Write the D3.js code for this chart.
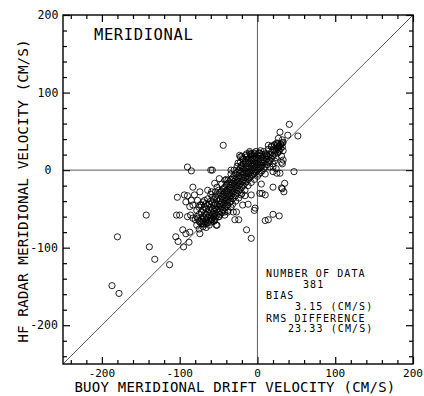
<!DOCTYPE html>
<html>
<head>
<meta charset="utf-8">
<script src="https://cdn.jsdelivr.net/npm/d3@7"></script>
<style>
  body { margin: 0; background: #fff; }
  text { font-family: "DejaVu Sans Mono", monospace; fill: #000; }
</style>
</head>
<body>
<div id="chart"></div>
<script>
// axis labels / ticks
const majorTicks = [-200, -100, 0, 100, 200];
const statLines = ['NUMBER OF DATA', '381', 'BIAS', '3.15 (CM/S)', 'RMS DIFFERENCE', '23.33 (CM/S)'];

// buoy (x) vs radar (y), cm/s
const lowerTail = [
  [-187, -149], [-178, -159], [-180, -86], [-143, -58], [-139, -99], [-132, -115],
  [-113, -122], [-104, -58], [-100, -58], [-102, -92], [-95, -99], [-88, -93],
  [-105, -86], [-96, -77], [-92, -82], [-87, -80], [-74, -82], [-80, -64],
  [-70, -69], [-90, -60], [-86, -58], [-83, -62], [-77, -62], [-74, -67],
  [-66, -69], [-59, -64], [-53, -71], [-49, -60]
];
const leftScatter = [
  [-90, 4], [-85, -1], [-60, 0], [-58, 0], [-34, 0], [-44, 32],
  [-103, -35], [-94, -32], [-90, -33], [-81, -32], [-74, -28], [-85, -39], [-77, -39],
  [-68, -39], [-83, -45], [-74, -45], [-92, -41], [-87, -47], [-83, -22],
  [-49, -11], [-42, -13], [-38, -13], [-55, -17], [-64, -26], [-59, -28]
];
const rightScatter = [
  [5, -18], [10, -32], [3, -30], [-21, -32], [-16, -33], [-8, -32], [-19, -45],
  [-12, -44], [-4, -52], [-3, -49], [-31, -54], [-27, -54], [20, -57], [28, -59], [10, -65],
  [14, -64], [-29, -64], [-24, -64], [-14, -77], [-8, -88], [-42, -54], [-38, -54],
  [-55, -65], [-52, -71], [20, -22], [32, -24], [34, -28], [35, -17], [31, -23],
  [6, -30], [47, -2], [20, -2], [25, -4], [29, -4], [31, 10], [32, 8], [20, 4], [24, 2]
];
const upperTail = [
  [41, 59], [52, 44], [29, 49], [39, 45], [27, 41], [32, 39], [22, 33], [25, 35],
  [28, 31], [30, 34], [33, 36], [26, 29], [14, 32], [18, 31], [22, 26], [28, 24],
  [33, 25], [31, 18], [33, 13], [-8, 21], [-4, 21], [3, 22], [10, 21], [12, 19],
  [-23, 19], [-19, 15], [-25, 9], [-21, 6], [-22, 17], [-14, 21], [-10, 24],
  [-20, 18], [-15, 19], [-9, 20]
];
// dense band, one row per buoy value
const coreColumns = [
  [-78, [-60, -71, -52]],
  [-75, [-57, -66, -48, -76]],
  [-72, [-54, -63, -69, -45]],
  [-70, [-51, -60, -66, -73, -41]],
  [-68, [-47, -56, -62, -70]],
  [-66, [-50, -58, -64, -43, -74]],
  [-64, [-46, -55, -61, -68, -37]],
  [-62, [-44, -51, -58, -65, -71]],
  [-60, [-40, -48, -54, -62, -67, -31]],
  [-58, [-42, -50, -57, -63, -35]],
  [-56, [-38, -45, -53, -60, -66]],
  [-54, [-34, -43, -49, -56, -62, -28]],
  [-52, [-37, -45, -51, -58, -22]],
  [-50, [-31, -40, -47, -54, -60, -26]],
  [-48, [-29, -37, -44, -50, -57]],
  [-46, [-27, -34, -41, -47, -55, -18]],
  [-44, [-24, -32, -38, -45, -52]],
  [-42, [-22, -29, -36, -43, -49, -58]],
  [-40, [-19, -27, -34, -40, -47, -12]],
  [-38, [-17, -25, -31, -38, -45, -52]],
  [-36, [-15, -22, -29, -35, -42]],
  [-34, [-12, -19, -26, -33, -40, -48, -5]],
  [-32, [-10, -17, -24, -30, -37, -44]],
  [-30, [-7, -15, -21, -28, -35, 0]],
  [-28, [-5, -12, -19, -25, -33, -40]],
  [-26, [-3, -10, -16, -23, -30, 5]],
  [-24, [0, -7, -14, -20, -27, -36]],
  [-22, [3, -4, -11, -18, -25, 10]],
  [-20, [5, -2, -9, -15, -22, -30]],
  [-18, [8, 1, -6, -13, -20, 14]],
  [-16, [10, 3, -4, -10, -17, -26]],
  [-14, [12, 5, -2, -8, -15, 17]],
  [-12, [14, 8, 1, -5, -12, -20]],
  [-10, [16, 10, 3, -3, -10, 22]],
  [-8, [18, 12, 5, -1, -8, -16]],
  [-6, [20, 14, 7, 1, -6]],
  [-4, [22, 15, 9, 3, -4, -12]],
  [-2, [24, 17, 11, 5, -2]],
  [0, [20, 13, 7, 0, -8]],
  [2, [22, 15, 9, 2, -5]],
  [4, [18, 11, 4, -3, 25]],
  [6, [20, 13, 6, -1]],
  [8, [16, 9, 2, 24]],
  [10, [18, 11, 4, -5]],
  [12, [21, 14, 7]],
  [14, [17, 10, 27]],
  [16, [20, 12, 4]],
  [18, [23, 15, 30]],
  [20, [18, 8, 26]],
  [22, [21, 12, 32]],
  [24, [25, 30, 16]],
  [26, [28, 34, 22]],
  [28, [31, 26]],
  [30, [33, 28]],
  [32, [35, 30]]
];

const points = [...lowerTail, ...leftScatter, ...rightScatter, ...upperTail];
coreColumns.forEach(([bx, ys]) => ys.forEach(ry => points.push([bx, ry])));

const width = 424, height = 396;
const margin = {left: 63, right: 11, top: 15, bottom: 32};

const svg = d3.select('#chart').append('svg')
  .attr('width', width).attr('height', height);

const x = d3.scaleLinear().domain([-250, 200]).range([margin.left, width - margin.right]);
const y = d3.scaleLinear().domain([-250, 200]).range([height - margin.bottom, margin.top]);

const minorTicks = d3.range(-240, 200, 20).filter(d => d % 100 !== 0);

// inward ticks on all four sides
function addTicks(axisFn, transform) {
  svg.append('g').attr('transform', transform)
    .call(axisFn.tickValues(minorTicks).tickSize(4).tickFormat(''))
    .call(g => g.select('.domain').remove());
  svg.append('g').attr('transform', transform)
    .call(axisFn.tickValues(majorTicks).tickSize(7).tickFormat(''))
    .call(g => g.select('.domain').remove());
}
addTicks(d3.axisTop(x), `translate(0,${y(-250)})`);
addTicks(d3.axisBottom(x), `translate(0,${y(200)})`);
addTicks(d3.axisRight(y), `translate(${x(-250)},0)`);
addTicks(d3.axisLeft(y), `translate(${x(200)},0)`);
svg.selectAll('.tick line').attr('stroke', '#000').attr('stroke-width', 1.2);

// reference lines
const ref = svg.append('g').attr('stroke', '#333').attr('stroke-width', 0.8);
ref.append('line').attr('x1', x(0)).attr('x2', x(0)).attr('y1', y(-250)).attr('y2', y(200));
ref.append('line').attr('x1', x(-250)).attr('x2', x(200)).attr('y1', y(0)).attr('y2', y(0));
ref.append('line').attr('x1', x(-250)).attr('x2', x(200)).attr('y1', y(-250)).attr('y2', y(200));

// frame
svg.append('rect')
  .attr('x', x(-250)).attr('y', y(200))
  .attr('width', x(200) - x(-250)).attr('height', y(-250) - y(200))
  .attr('fill', 'none').attr('stroke', '#000').attr('stroke-width', 1.4);

// points
svg.append('g').selectAll('circle').data(points).enter().append('circle')
  .attr('cx', d => x(d[0]))
  .attr('cy', d => y(d[1]))
  .attr('r', 3.1)
  .attr('fill', 'none')
  .attr('stroke', '#000')
  .attr('stroke-width', 0.85);

// tick labels
svg.append('g').selectAll('text').data(majorTicks).enter().append('text')
  .attr('x', d => x(d))
  .attr('y', 377)
  .attr('text-anchor', 'middle')
  .style('font-size', '11px')
  .text(d => d);
svg.append('g').selectAll('text').data(majorTicks).enter().append('text')
  .attr('x', d => d < 0 ? 44 : 48)
  .attr('y', d => y(d))
  .attr('dy', '0.36em')
  .attr('text-anchor', 'middle')
  .style('font-size', '11.5px')
  .text(d => d);

// axis titles
svg.append('text')
  .attr('x', 235).attr('y', 392)
  .attr('text-anchor', 'middle')
  .style('font-size', '14px')
  .style('letter-spacing', '0.25px')
  .text('BUOY MERIDIONAL DRIFT VELOCITY (CM/S)');
svg.append('text')
  .attr('transform', 'translate(28,191) rotate(-90)')
  .attr('text-anchor', 'middle')
  .style('font-size', '14.4px')
  .text('HF RADAR MERIDIONAL VELOCITY (CM/S)');

svg.append('text')
  .attr('x', 94).attr('y', 40)
  .style('font-size', '15.5px')
  .style('letter-spacing', '0.6px')
  .text('MERIDIONAL');

// summary statistics
const statX = [266, 303, 266, 295, 266, 288];
const statY = [277, 287.5, 298.5, 310, 321.5, 332];
svg.append('g').selectAll('text').data(statLines).enter().append('text')
  .attr('x', (d, i) => statX[i])
  .attr('y', (d, i) => statY[i])
  .style('font-size', '10px')
  .style('letter-spacing', '1.1px')
  .text(d => d);
</script>
</body>
</html>
